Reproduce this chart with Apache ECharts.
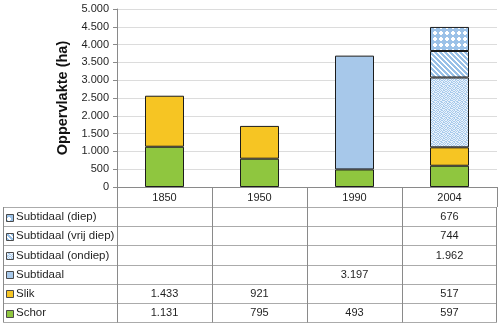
<!DOCTYPE html>
<html>
<head>
<meta charset="utf-8">
<script src="https://cdn.jsdelivr.net/npm/echarts@6/dist/echarts.min.js"></script>
<style>
  html, body { margin: 0; padding: 0; background: #ffffff; }
  #chart { width: 500px; height: 327px; }
</style>
</head>
<body>
<div id="chart"></div>
<script>
// Oppervlakte per habitat (ha), per jaar
const years = ['1850', '1950', '1990', '2004'];
const schor = [1131, 795, 493, 597];
const slik = [1433, 921, null, 517];
const subtidaal = [null, null, 3197, null];
const subOndiep = [null, null, null, 1962];
const subVrijDiep = [null, null, null, 744];
const subDiep = [null, null, null, 676];

const yMin = 0;
const yMax = 5000;
const yStep = 500;

const FONT = '"Liberation Sans", Arial, sans-serif';
const BLUE = '#a7c8ea';

function fmt(v) {
  if (v === null || v === undefined) return '';
  return String(v).replace(/\B(?=(\d{3})+(?!\d))/g, '.');
}

function tile(w, h, draw) {
  const c = document.createElement('canvas');
  c.width = w; c.height = h;
  const g = c.getContext('2d');
  draw(g, w, h);
  return c;
}

// dotted fill (diep)
const diepTile = tile(6, 6, (g) => {
  g.fillStyle = '#9cc2e8'; g.fillRect(0, 0, 6, 6);
  g.fillStyle = '#ffffff';
  g.fillRect(2, 1, 2, 4);
  g.fillRect(1, 2, 4, 2);
});
// diagonal stripes (vrij diep)
const vrijTile = tile(5, 5, (g) => {
  g.fillStyle = '#98c0e7'; g.fillRect(0, 0, 5, 5);
  g.fillStyle = '#ffffff';
  for (let y = 0; y < 5; y++) {
    for (let x = 0; x < 5; x++) {
      const d = ((x - y) % 5 + 5) % 5;
      if (d === 0 || d === 1) g.fillRect(x, y, 1, 1);
    }
  }
});
// fine speckle (ondiep)
const speckleMask = [
  '10010110',
  '01101001',
  '10100110',
  '01011001',
  '11000110',
  '00111001',
  '10010101',
  '01101010'
];
const ondiepTile = tile(8, 8, (g) => {
  g.fillStyle = '#a9cbec'; g.fillRect(0, 0, 8, 8);
  g.fillStyle = '#e8f1fb';
  speckleMask.forEach((row, y) => {
    for (let x = 0; x < 8; x++) if (row[x] === '1') g.fillRect(x, y, 1, 1);
  });
});

const fills = {
  schor: '#8fc63f',
  slik: '#f6c523',
  subtidaal: BLUE,
  ondiep: { image: ondiepTile, repeat: 'repeat' },
  vrij: { image: vrijTile, repeat: 'repeat' },
  diep: { image: diepTile, repeat: 'repeat' }
};

// table rows, top to bottom
const rows = [
  { name: 'Subtidaal (diep)', data: subDiep, fill: fills.diep },
  { name: 'Subtidaal (vrij diep)', data: subVrijDiep, fill: fills.vrij },
  { name: 'Subtidaal (ondiep)', data: subOndiep, fill: fills.ondiep },
  { name: 'Subtidaal', data: subtidaal, fill: fills.subtidaal },
  { name: 'Slik', data: slik, fill: fills.slik },
  { name: 'Schor', data: schor, fill: fills.schor }
];

const chart = echarts.init(document.getElementById('chart'), null, { renderer: 'canvas' });

const stackOrder = rows.slice().reverse();
const series = stackOrder.map((r) => ({
  name: r.name,
  type: 'bar',
  stack: 'opp',
  barWidth: 39,
  data: r.data,
  itemStyle: { color: r.fill, borderColor: '#1c1c1c', borderWidth: 1 },
  emphasis: { disabled: true },
  animation: false
}));

const option = {
  animation: false,
  backgroundColor: '#ffffff',
  textStyle: { fontFamily: FONT },
  grid: { left: 117, right: 3, top: 9, bottom: 140, containLabel: false },
  xAxis: {
    type: 'category',
    data: years,
    axisLine: { lineStyle: { color: '#8a8a8a', width: 1 } },
    axisTick: { show: true, length: 20, lineStyle: { color: '#8a8a8a' } },
    axisLabel: { color: '#1f1f1f', fontSize: 11, margin: 5, fontFamily: FONT }
  },
  yAxis: {
    type: 'value',
    min: yMin,
    max: yMax,
    interval: yStep,
    name: 'Oppervlakte (ha)',
    nameLocation: 'middle',
    nameGap: 46,
    nameTextStyle: { fontSize: 14.5, fontWeight: 'bold', color: '#111', fontFamily: FONT },
    axisLine: { show: true, lineStyle: { color: '#8a8a8a' } },
    axisTick: { show: true, length: 4, lineStyle: { color: '#8a8a8a' } },
    axisLabel: { color: '#1f1f1f', fontSize: 11, margin: 8, formatter: (v) => fmt(v), fontFamily: FONT },
    splitLine: { show: true, lineStyle: { color: '#dcdcdc' } }
  },
  series: series
};

chart.setOption(option);

// data table beneath the plot, aligned to the category axis
function buildTable() {
  const c0 = chart.convertToPixel({ xAxisIndex: 0 }, years[0]);
  const c1 = chart.convertToPixel({ xAxisIndex: 0 }, years[1]);
  const band = c1 - c0;
  const centers = years.map((y) => chart.convertToPixel({ xAxisIndex: 0 }, y));
  const plotLeft = centers[0] - band / 2;
  const plotRight = centers[centers.length - 1] + band / 2;
  const tableLeft = 3.5;
  const top = 207;
  const rowH = 19.2;
  const bottom = top + rowH * rows.length;
  const els = [];
  const hColor = '#ababab';
  const vColor = '#8a8a8a';

  for (let i = 0; i <= rows.length; i++) {
    const y = Math.round(top + i * rowH) + 0.5;
    els.push({ type: 'line', silent: true, shape: { x1: tableLeft, y1: y, x2: Math.round(plotRight) - 0.5, y2: y }, style: { stroke: hColor, lineWidth: 1 } });
  }
  const vxs = [tableLeft];
  for (let k = 0; k <= years.length; k++) vxs.push(Math.round(plotLeft + k * band) + (k === years.length ? -0.5 : 0.5));
  vxs.forEach((x) => {
    els.push({ type: 'line', silent: true, shape: { x1: x, y1: top, x2: x, y2: Math.round(bottom) + 0.5 }, style: { stroke: vColor, lineWidth: 1 } });
  });

  rows.forEach((r, i) => {
    const cy = top + i * rowH + rowH / 2 + 0.5;
    els.push({ type: 'rect', silent: true, shape: { x: 6.5, y: Math.round(cy - 3.5) + 0.5, width: 7, height: 7 }, style: { fill: r.fill, stroke: '#4a4a4a', lineWidth: 1 } });
    els.push({ type: 'text', silent: true, x: 16, y: cy, style: { text: r.name, fontSize: 11.5, fontFamily: FONT, fill: '#1f1f1f', align: 'left', verticalAlign: 'middle' } });
    r.data.forEach((v, j) => {
      if (v === null) return;
      els.push({ type: 'text', silent: true, x: centers[j], y: cy, style: { text: fmt(v), fontSize: 11, fontFamily: FONT, fill: '#1f1f1f', align: 'center', verticalAlign: 'middle' } });
    });
  });

  chart.setOption({ graphic: { elements: els } });
}
buildTable();
</script>
</body>
</html>
